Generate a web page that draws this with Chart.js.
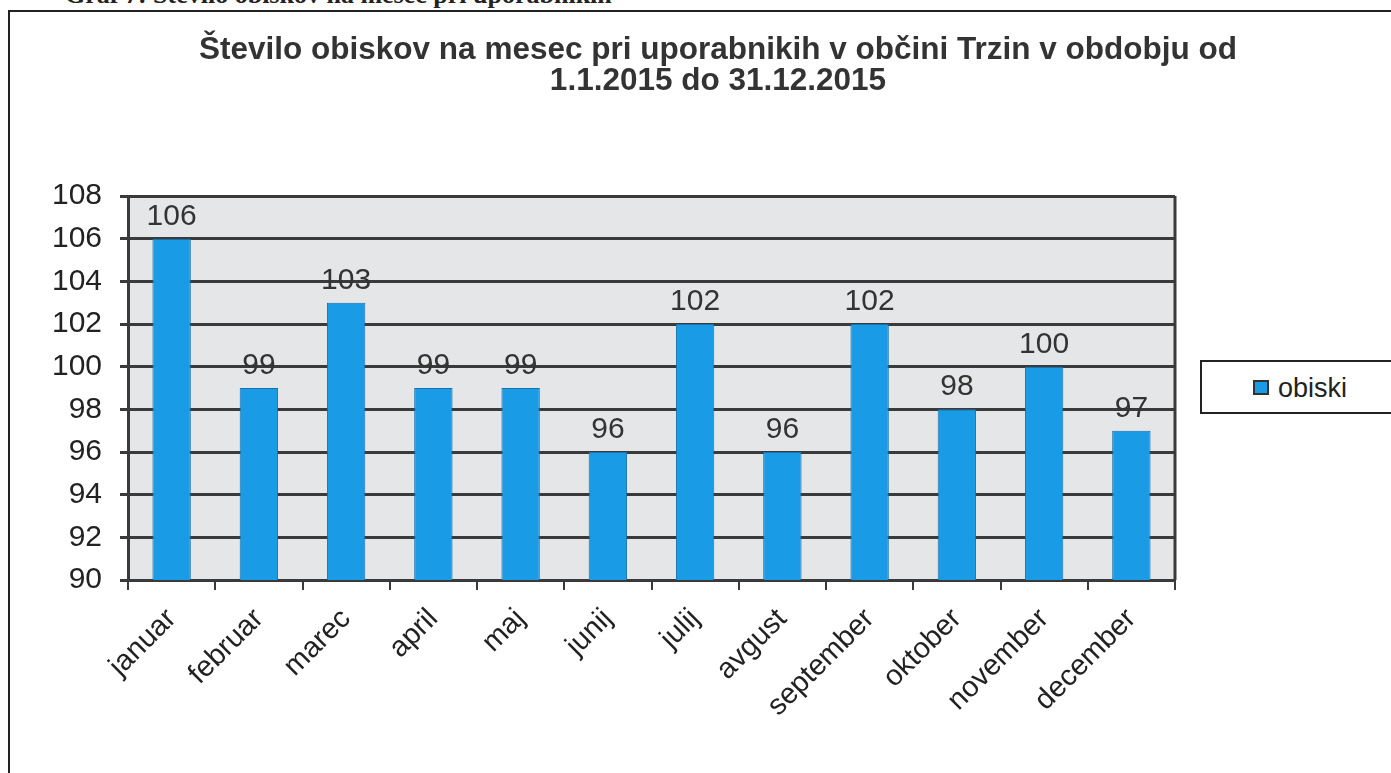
<!DOCTYPE html>
<html>
<head>
<meta charset="utf-8">
<script src="https://cdn.jsdelivr.net/npm/chart.js@4"></script>
<style>
  html, body { margin: 0; padding: 0; background: #fff; overflow: hidden; }
  #wrap { position: relative; width: 1391px; height: 773px; }
  #cap { position: absolute; left: 65px; top: -20px; font: bold 26px "Liberation Serif", serif; color: #222; white-space: nowrap; }
  #frame { position: absolute; left: 8px; top: 10px; width: 1400px; height: 800px; border: 2px solid #222; box-sizing: border-box; }
  #chart { position: absolute; left: 0; top: 0; }
  #title { position: absolute; left: 0; top: 33px; width: 1436px; text-align: center; font: bold 31.5px/31px "Liberation Sans", Arial, sans-serif; color: #333; }
  #legend { position: absolute; left: 1200px; top: 360px; width: 200px; height: 54px; border: 2px solid #222; box-sizing: border-box; background: #fff;
            font: 27px/27px "Liberation Sans", Arial, sans-serif; color: #222; }
  #legend span.sw { position: absolute; left: 51px; top: 18px; width: 12px; height: 11px; background: #1a9be6; border: 2px solid #333; }
  #legend span.tx { position: absolute; left: 76px; top: 13px; }
</style>
</head>
<body>
<div id="wrap">
  <div id="cap">Graf 7: Število obiskov na mesec pri uporabnikih</div>
  <div id="frame"></div>
  <canvas id="chart" width="1284" height="773"></canvas>
  <div id="title">Število obiskov na mesec pri uporabnikih v občini Trzin v obdobju od<br>1.1.2015 do 31.12.2015</div>
  <div id="legend"><span class="sw"></span><span class="tx">obiski</span></div>
</div>
<script>
// Podatki
const meseci = ['januar', 'februar', 'marec', 'april', 'maj', 'junij', 'julij', 'avgust', 'september', 'oktober', 'november', 'december'];
const obiski = [106, 99, 103, 99, 99, 96, 102, 96, 102, 98, 100, 97];
const yMin = 90;
const yMax = 108;
const yStep = 2;

// ozadje risalne povrsine
const plotBg = {
    id: 'plotBg',
    beforeDraw(chart) {
        const a = chart.chartArea;
        const c = chart.ctx;
        c.save();
        c.fillStyle = '#e4e6e8';
        c.fillRect(a.left, a.top, a.right - a.left, a.bottom - a.top);
        c.strokeStyle = '#3a3a3a';
        c.lineWidth = 3;
        c.beginPath();
        c.moveTo(a.right, a.top);
        c.lineTo(a.right, a.bottom);
        c.stroke();
        c.restore();
    }
};

// oznake vrednosti nad stolpci
const barLabels = {
    id: 'barLabels',
    afterDatasetsDraw(chart) {
        const c = chart.ctx;
        const meta = chart.getDatasetMeta(0);
        c.save();
        c.font = '30px "Liberation Sans", Arial, sans-serif';
        c.fillStyle = '#333';
        c.textAlign = 'center';
        c.textBaseline = 'alphabetic';
        meta.data.forEach(function(bar, i) {
            c.fillText(String(obiski[i]), bar.x, bar.y - 14);
        });
        c.restore();
    }
};

new Chart(document.getElementById('chart'), {
    type: 'bar',
    data: {
        labels: meseci,
        datasets: [{
            label: 'obiski',
            data: obiski,
            backgroundColor: '#1a9be6',
            borderColor: '#1670ad',
            borderWidth: 1,
            barPercentage: 0.88,
            categoryPercentage: 0.5
        }]
    },
    options: {
        responsive: false,
        animation: false,
        layout: { padding: { left: 0, right: 109, top: 196, bottom: 0 } },
        plugins: {
            legend: { display: false },
            tooltip: { enabled: false },
            title: { display: false }
        },
        scales: {
            x: {
                grid: { offset: true, drawOnChartArea: false, color: '#3a3a3a', lineWidth: 2, tickLength: 10 },
                border: { color: '#3a3a3a', width: 3 },
                ticks: {
                    color: '#222',
                    font: { family: '"Liberation Sans", Arial, sans-serif', size: 29 },
                    minRotation: 45,
                    maxRotation: 45,
                    padding: 12
                },
                afterFit(scale) { scale.height = 193; }
            },
            y: {
                min: yMin,
                max: yMax,
                grid: { color: '#3a3a3a', lineWidth: 3, tickLength: 8 },
                border: { color: '#3a3a3a', width: 3 },
                ticks: {
                    stepSize: yStep,
                    color: '#222',
                    font: { family: '"Liberation Sans", Arial, sans-serif', size: 30 },
                    padding: 18
                },
                afterFit(scale) { scale.width = 128; }
            }
        }
    },
    plugins: [plotBg, barLabels]
});
</script>
</body>
</html>
